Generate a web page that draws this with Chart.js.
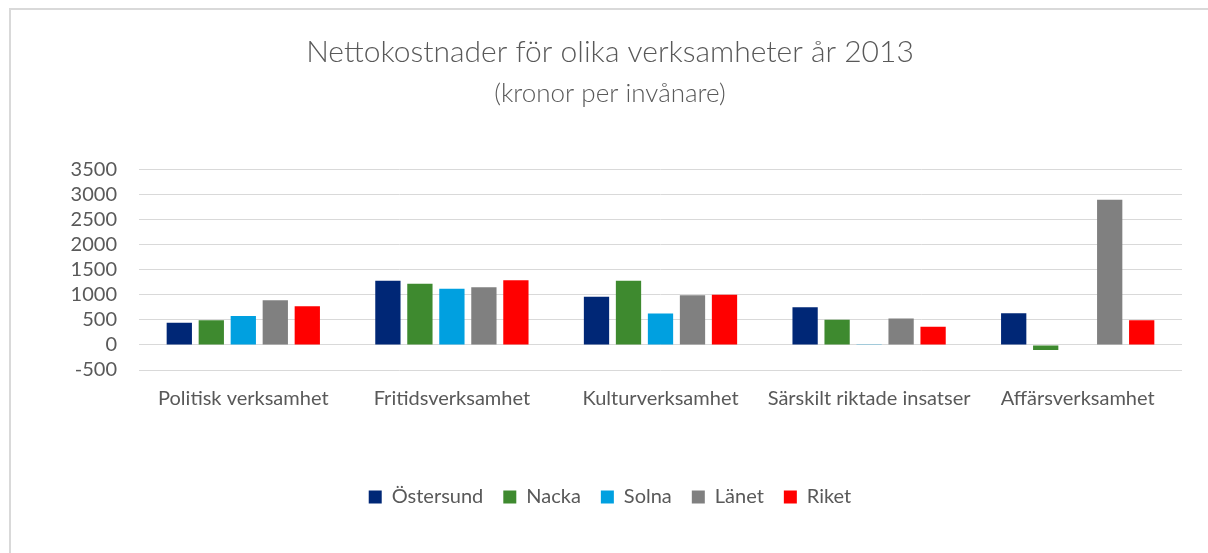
<!DOCTYPE html>
<html>
<head>
<meta charset="utf-8">
<script src="https://cdn.jsdelivr.net/npm/chart.js@4.4.0/dist/chart.umd.min.js"></script>
<style>
  html, body { margin: 0; padding: 0; background: #fff; }
  body { width: 1208px; height: 553px; position: relative; overflow: hidden; }
  #frame { position: absolute; left: 9px; top: 8px; width: 1220px; height: 560px; border: 2px solid #d9d9d9; box-sizing: border-box; }
  #wrap { position: absolute; left: 0; top: 0; width: 1208px; height: 553px; }
</style>
</head>
<body>
<div id="frame"></div>
<div id="wrap"><canvas id="c" width="1208" height="553"></canvas></div>
<script>
const categories = ["Politisk verksamhet", "Fritidsverksamhet", "Kulturverksamhet", "Särskilt riktade insatser", "Affärsverksamhet"];
const seriesNames = ["Östersund", "Nacka", "Solna", "Länet", "Riket"];
const ostersund = [440, 1280, 960, 750, 630];
const nacka = [490, 1220, 1280, 500, -100];
const solna = [575, 1120, 625, 12, 0];
const lanet = [890, 1150, 990, 525, 2890];
const riket = [770, 1290, 1000, 360, 490];
const yTicks = [-500, 0, 500, 1000, 1500, 2000, 2500, 3000, 3500];
const colors = ["#002776", "#3e8a2f", "#00a0e0", "#808080", "#ff0000"];

const FONT = "Lato, 'Open Sans', sans-serif";
const values = [ostersund, nacka, solna, lanet, riket];

new Chart(document.getElementById('c'), {
  type: 'bar',
  data: {
    labels: categories,
    datasets: seriesNames.map((n, i) => ({
      label: n,
      data: values[i],
      backgroundColor: colors[i],
      borderWidth: 0,
      categoryPercentage: 0.767,
      barPercentage: 0.79
    }))
  },
  options: {
    responsive: false,
    animation: false,
    devicePixelRatio: 1,
    layout: { padding: { left: 38, right: 26, top: 0, bottom: 36 } },
    plugins: {
      title: {
        display: true,
        text: "Nettokostnader för olika verksamheter år 2013",
        color: "#595959",
        font: { family: FONT, size: 30, weight: '300' },
        padding: { top: 34, bottom: 8 }
      },
      subtitle: {
        display: true,
        text: "(kronor per invånare)",
        color: "#595959",
        font: { family: FONT, size: 26, weight: '300' },
        padding: { top: 0, bottom: 60 }
      },
      legend: {
        position: 'bottom',
        labels: {
          color: "#595959",
          font: { family: FONT, size: 20 },
          boxWidth: 13,
          boxHeight: 13,
          padding: 20
        }
      },
      tooltip: { enabled: false }
    },
    scales: {
      x: {
        grid: { display: false, drawTicks: false },
        border: { display: false },
        ticks: { color: "#595959", font: { family: FONT, size: 20 }, padding: 17, maxRotation: 0 },
        afterFit: s => { s.height = 97; }
      },
      y: {
        min: -500, max: 3500,
        afterBuildTicks: s => { s.ticks = yTicks.map(v => ({ value: v })); },
        grid: { color: "#d9d9d9", lineWidth: 1, drawTicks: false },
        border: { display: false },
        ticks: { color: "#595959", font: { family: FONT, size: 20 }, padding: 22, autoSkip: false, callback: v => String(v) },
        afterFit: s => { s.width = 101; }
      }
    }
  }
});
</script>
</body>
</html>
